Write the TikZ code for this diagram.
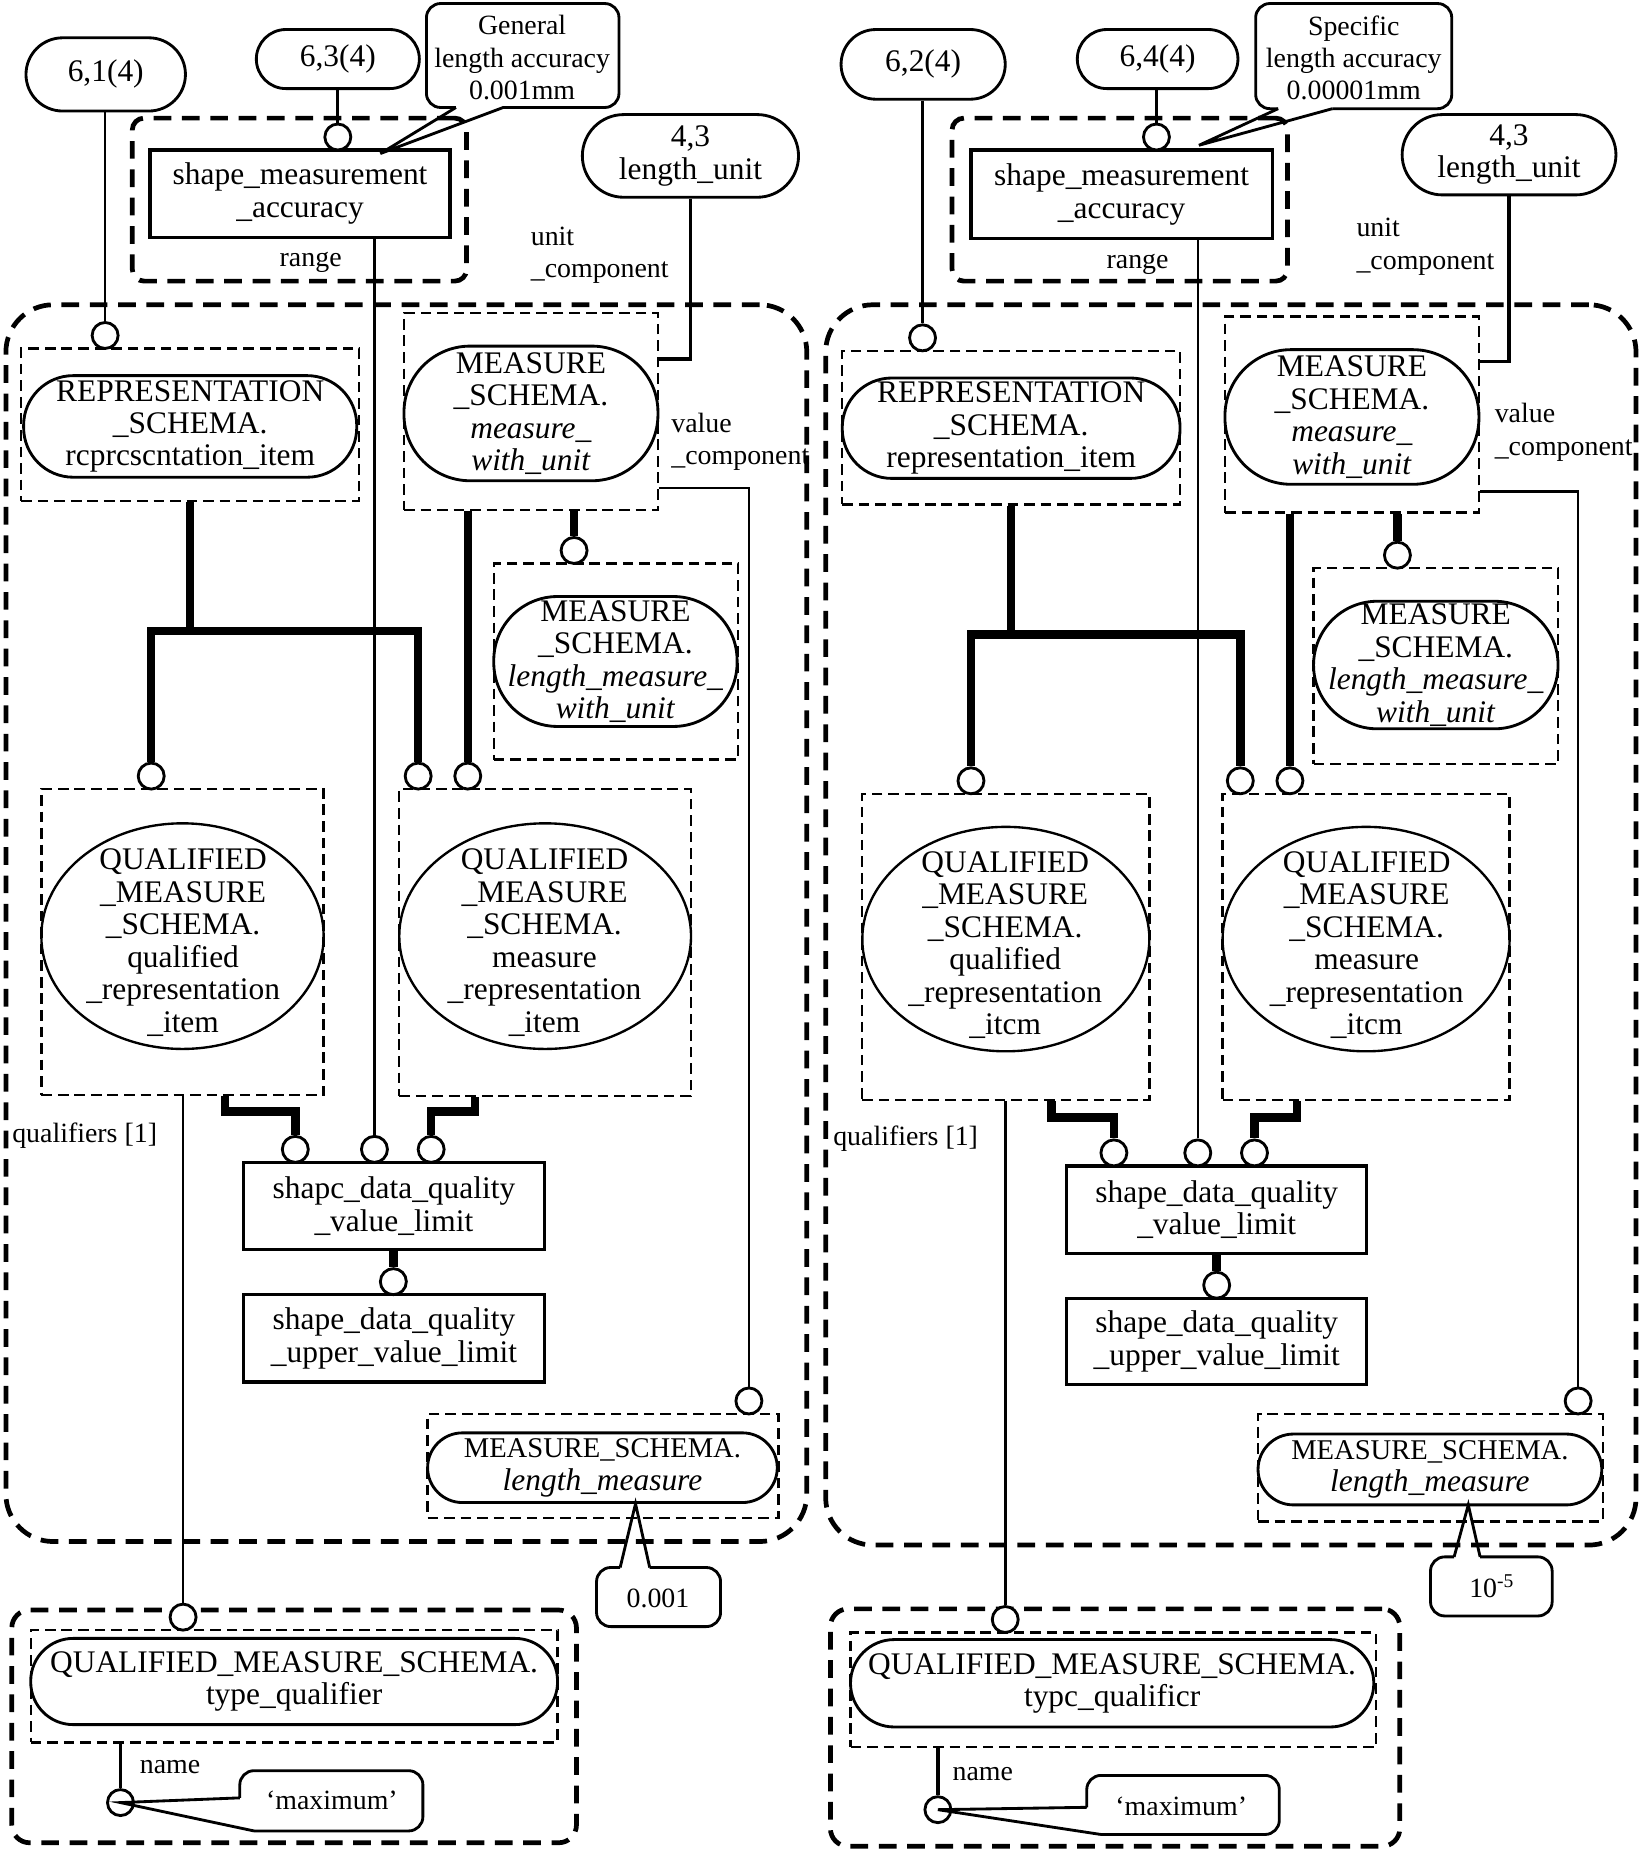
\documentclass[tikz,border=0pt]{standalone}
\usepackage{fontspec}
\setmainfont{Liberation Serif}
\usetikzlibrary{fit,shapes.geometric,calc}
\newcommand{\mainsz}{\fontsize{13.3pt}{13.75pt}\selectfont}
\newcommand{\smallsz}{\fontsize{11.8pt}{13.75pt}\selectfont}
\newcommand{\lmsz}{\fontsize{12.1pt}{13.75pt}\selectfont}
\begin{document}
\begin{tikzpicture}[x=0.5pt,y=-0.5pt,
  tdash/.style={line width=2pt, dash pattern=on 7.5pt off 4.5pt},
  grp/.style={draw, tdash, inner sep=0pt, rounded corners=5pt},
  fdash/.style={draw, line width=1pt, dash pattern=on 4.5pt off 2.5pt, inner sep=0pt},
  sbox/.style={draw, line width=1.4pt, inner sep=0pt, align=center, font=\mainsz},
  stad/.style={draw, line width=1.2pt, inner sep=0pt, align=center, font=\mainsz},
  ell/.style={draw, ellipse, line width=1pt, inner sep=0pt},
  txt/.style={align=center, inner sep=0pt, font=\mainsz},
  lbl/.style={align=left, inner sep=0pt, font=\smallsz, anchor=west},
  ring/.style={circle, draw, fill=white, line width=1.2pt, minimum size=11pt, inner sep=0pt},
  thin/.style={line width=1pt},
  med/.style={line width=1.4pt},
  thk/.style={line width=3.6pt},
  callout/.style={line width=1.2pt}]
\fill[white] (0,0) rectangle (1390,1567);
\useasboundingbox (0,0) rectangle (1390,1567);

% ================= LEFT HALF =================
\node[grp, rounded corners=20pt, fit={(5,258)(683,1305)}] (o1) {};
\node[stad, rounded corners=15.5pt, minimum width=67.5pt, minimum height=31pt] (n61) at (89.5,63) {6,1(4)};
\node[stad, rounded corners=12.5pt, minimum width=69pt, minimum height=25pt] (n63) at (286,50) {6,3(4)};
\node[grp, fit={(112,100)(395,238)}] (g1) {};
\node[sbox, minimum width=127pt, minimum height=37pt] (sma1) at (254,164) {shape\_measurement\\\_accuracy};
\node[lbl, anchor=center] (rng1) at (263,222) {range};
\node[txt, font=\smallsz] (gen) at (442,49) {General\\length accuracy\\0.001mm};
\draw[callout, rounded corners=6pt] (386,91) -- (361,91) -- (361,3) -- (524,3) -- (524,91) -- (426,91);
\draw[callout] (426,91) -- (322,130) -- (386,91);
\node[stad, rounded corners=17.5pt, minimum width=91.5pt, minimum height=35pt] (n43a) at (584.5,132) {4,3\\length\_unit};
\node[lbl] (uc1) at (449,216) {unit\\\_component};
\node[fdash, fit={(18,295)(304,424)}] (rb1) {};
\node[stad, rounded corners=21pt, minimum width=141pt, minimum height=43pt] (rep1) at (161,361) {REPRESENTATION\\\_SCHEMA.\\rcprcscntation\_item};
\node[fdash, fit={(342,265)(557,432)}] (mb1) {};
\node[stad, rounded corners=28pt, minimum width=107.5pt, minimum height=57pt] (mwu1) at (449.5,350) {MEASURE\\\_SCHEMA.\\\textit{measure\_}\\\textit{with\_unit}};
\node[lbl] (vc1) at (568,374) {value\\\_component};
\node[fdash, fit={(418,477)(625,643)}] (lb1) {};
\node[stad, rounded corners=27pt, minimum width=103pt, minimum height=55pt] (lmwu1) at (521,560) {MEASURE\\\_SCHEMA.\\\textit{length\_measure\_}\\\textit{with\_unit}};
\node[fdash, fit={(35,668)(274,927)}] (qb1) {};
\node[ell, minimum width=119.5pt, minimum height=95.5pt] (qe1) at (154.5,792.5) {};
\node[txt] (qt1) at (155,798) {QUALIFIED\\\_MEASURE\\\_SCHEMA.\\qualified\\\_representation\\\_item};
\node[fdash, fit={(338,668)(585,928)}] (qb2) {};
\node[ell, minimum width=123.5pt, minimum height=95.5pt] (qe2) at (461.5,792.5) {};
\node[txt] (qt2) at (461,798) {QUALIFIED\\\_MEASURE\\\_SCHEMA.\\measure\\\_representation\\\_item};
\node[lbl] (ql1) at (10,961) {qualifiers [1]};
\node[sbox, minimum width=127.5pt, minimum height=37pt] (vl1) at (333.5,1021) {shapc\_data\_quality\\\_value\_limit};
\node[sbox, minimum width=127.5pt, minimum height=37pt] (uvl1) at (333.5,1133) {shape\_data\_quality\\\_upper\_value\_limit};
\node[fdash, fit={(362,1197)(659,1285)}] (lmb1) {};
\node[stad, rounded corners=14.75pt, minimum width=148pt, minimum height=29.5pt] (lm1) at (510,1242.5) {{\lmsz MEASURE\_SCHEMA.}\\\textit{length\_measure}};
\node[txt, font=\smallsz] (c001) at (557,1353) {0.001};
\draw[callout, rounded corners=6pt] (525,1327) -- (505,1327) -- (505,1377) -- (610,1377) -- (610,1327) -- (550,1327);
\draw[callout] (550,1327) -- (538,1273) -- (525,1327);
\node[grp, rounded corners=7.5pt, fit={(10,1363)(488,1560)}] (gb1) {};
\node[fdash, fit={(26,1380)(472,1475)}] (tqb1) {};
\node[stad, rounded corners=18pt, minimum width=223pt, minimum height=36.5pt] (tq1) at (249,1423.5) {QUALIFIED\_MEASURE\_SCHEMA.\\type\_qualifier};
\node[lbl] (nm1) at (118,1496) {name};
\node[txt, font=\smallsz] (mx1) at (281,1524) {‘maximum’};

\node[ring] (a1) at (89,284) {};
\node[ring] (a2) at (286,116) {};
\node[ring] (a3) at (486,466) {};
\node[ring] (a4) at (128,657) {};
\node[ring] (a5) at (354,657) {};
\node[ring] (a6) at (396,657) {};
\node[ring] (a7) at (250,973) {};
\node[ring] (a8) at (317,973) {};
\node[ring] (a9) at (365,973) {};
\node[ring] (a10) at (333,1085) {};
\node[ring] (a11) at (634,1186) {};
\node[ring] (a12) at (155,1369) {};
\node[ring] (a13) at (102,1526) {};

\draw[callout, rounded corners=6pt] (203,1522) -- (203,1499) -- (358,1499) -- (358,1550) -- (215,1550);
\draw[callout] (215,1550) -- (a13.center) -- (203,1522);

\draw[thin] (n61.south -| a1.north) -- (a1.north);
\draw[med] (n63.south -| a2.north) -- (a2.north);
\draw[med] (n43a.south) |- ([yshift=-20pt]mb1.north east);
\draw[thin] ([yshift=10pt]mb1.south east) -| (a11.north);
\draw[thk] (a3.north |- mb1.south) -- (a3.north);
\draw[thk] (a6.north |- mb1.south) -- (a6.north);
\draw[thk] (rb1.south) -- ++(0,109) coordinate (tr1);
\draw[thk] (a4.north) |- (tr1) -| (a5.north);
\draw[thin] (a8.north |- sma1.south) -- (a8.north);
\draw[thk] ([xshift=18pt]qb1.south) -- ++(0,13) -| (a7.north);
\draw[thk] ([xshift=-29.75pt]qb2.south) -- ++(0,12) -| (a9.north);
\draw[thk] (vl1.south -| a10.north) -- (a10.north);
\draw[thin] (qb1.south -| a12.north) -- (a12.north);
\draw[med] (tqb1.south -| a13.north) -- (a13.north);

% ================= RIGHT HALF =================
\node[grp, rounded corners=20pt, fit={(699,258)(1385,1308)}] (o2) {};
\node[stad, rounded corners=14.75pt, minimum width=69.5pt, minimum height=29.5pt] (n62) at (781.5,54.5) {6,2(4)};
\node[stad, rounded corners=12.5pt, minimum width=68pt, minimum height=25pt] (n64) at (980,50) {6,4(4)};
\node[grp, fit={(806,100)(1090,238)}] (g2) {};
\node[sbox, minimum width=127.5pt, minimum height=37.5pt] (sma2) at (949.5,164.5) {shape\_measurement\\\_accuracy};
\node[lbl, anchor=center] (rng2) at (963,224) {range};
\node[txt, font=\smallsz] (spec) at (1146,49) {Specific\\length accuracy\\0.00001mm};
\draw[callout, rounded corners=6pt] (1082,92) -- (1063,92) -- (1063,3) -- (1229,3) -- (1229,92) -- (1128,92);
\draw[callout] (1128,92) -- (1015,123) -- (1082,92);
\node[stad, rounded corners=17pt, minimum width=90.5pt, minimum height=34pt] (n43b) at (1277.5,131) {4,3\\length\_unit};
\node[lbl] (uc2) at (1148,209) {unit\\\_component};
\node[fdash, fit={(713,297)(999,427)}] (rb2) {};
\node[stad, rounded corners=21pt, minimum width=143pt, minimum height=42.5pt] (rep2) at (856,362.5) {REPRESENTATION\\\_SCHEMA.\\representation\_item};
\node[fdash, fit={(1037,268)(1252,434)}] (mb2) {};
\node[stad, rounded corners=28pt, minimum width=107.5pt, minimum height=57pt] (mwu2) at (1144.5,353) {MEASURE\\\_SCHEMA.\\\textit{measure\_}\\\textit{with\_unit}};
\node[lbl] (vc2) at (1265,366) {value\\\_component};
\node[fdash, fit={(1112,481)(1319,647)}] (lb2) {};
\node[stad, rounded corners=27pt, minimum width=103.5pt, minimum height=54pt] (lmwu2) at (1215.5,563) {MEASURE\\\_SCHEMA.\\\textit{length\_measure\_}\\\textit{with\_unit}};
\node[fdash, fit={(730,672)(973,931)}] (qb3) {};
\node[ell, minimum width=121.5pt, minimum height=95pt] (qe3) at (851.5,795) {};
\node[txt] (qt3) at (851,800) {QUALIFIED\\\_MEASURE\\\_SCHEMA.\\qualified\\\_representation\\\_itcm};
\node[fdash, fit={(1035,672)(1278,931)}] (qb4) {};
\node[ell, minimum width=121.5pt, minimum height=95pt] (qe4) at (1156.5,795) {};
\node[txt] (qt4) at (1157,800) {QUALIFIED\\\_MEASURE\\\_SCHEMA.\\measure\\\_representation\\\_itcm};
\node[lbl] (ql2) at (705,964) {qualifiers [1]};
\node[sbox, minimum width=127pt, minimum height=37pt] (vl2) at (1030,1024) {shape\_data\_quality\\\_value\_limit};
\node[sbox, minimum width=127pt, minimum height=36.5pt] (uvl2) at (1030,1135.5) {shape\_data\_quality\\\_upper\_value\_limit};
\node[fdash, fit={(1065,1197)(1357,1288)}] (lmb2) {};
\node[stad, rounded corners=15pt, minimum width=145.5pt, minimum height=30pt] (lm2) at (1210.5,1244) {{\lmsz MEASURE\_SCHEMA.}\\\textit{length\_measure}};
\node[txt, font=\smallsz] (c105) at (1263,1343) {10\textsuperscript{-5}};
\draw[callout, rounded corners=6pt] (1231,1318) -- (1211,1318) -- (1211,1368) -- (1314,1368) -- (1314,1318) -- (1253,1318);
\draw[callout] (1253,1318) -- (1243,1274) -- (1231,1318);
\node[grp, rounded corners=7.5pt, fit={(703,1362)(1185,1563)}] (gb2) {};
\node[fdash, fit={(720,1382)(1165,1479)}] (tqb2) {};
\node[stad, rounded corners=18.5pt, minimum width=221.5pt, minimum height=37pt] (tq2) at (941.5,1425) {QUALIFIED\_MEASURE\_SCHEMA.\\typc\_qualificr};
\node[lbl] (nm2) at (806,1502) {name};
\node[txt, font=\smallsz] (mx2) at (1000,1529) {‘maximum’};

\node[ring] (b1) at (781,286) {};
\node[ring] (b2) at (979,116) {};
\node[ring] (b3) at (1183,470) {};
\node[ring] (b4) at (822,661) {};
\node[ring] (b5) at (1050,661) {};
\node[ring] (b6) at (1092,661) {};
\node[ring] (b7) at (943,976) {};
\node[ring] (b8) at (1014,976) {};
\node[ring] (b9) at (1062,976) {};
\node[ring] (b10) at (1030,1088) {};
\node[ring] (b11) at (1336,1186) {};
\node[ring] (b12) at (851,1371) {};
\node[ring] (b13) at (794,1532) {};

\draw[callout, rounded corners=6pt] (920,1530) -- (920,1503) -- (1083,1503) -- (1083,1553) -- (932,1553);
\draw[callout] (932,1553) -- (b13.center) -- (920,1530);

\draw[med] (n62.south -| b1.north) -- (b1.north);
\draw[med] (n64.south -| b2.north) -- (b2.north);
\draw[med] (n43b.south) |- ([yshift=-19.5pt]mb2.north east);
\draw[thin] ([yshift=9.5pt]mb2.south east) -| (b11.north);
\draw[thk] (b3.north |- mb2.south) -- (b3.north);
\draw[thk] (b6.north |- mb2.south) -- (b6.north);
\draw[thk] (rb2.south) -- ++(0,109) coordinate (tr2);
\draw[thk] (b4.north) |- (tr2) -| (b5.north);
\draw[thin] (b8.north |- sma2.south) -- (b8.north);
\draw[thk] ([xshift=19.25pt]qb3.south) -- ++(0,14) -| (b7.north);
\draw[thk] ([xshift=-29.25pt]qb4.south) -- ++(0,14) -| (b9.north);
\draw[thk] (vl2.south -| b10.north) -- (b10.north);
\draw[med] (qb3.south -| b12.north) -- (b12.north);
\draw[med] (tqb2.south -| b13.north) -- (b13.north);
\end{tikzpicture}
\end{document}
